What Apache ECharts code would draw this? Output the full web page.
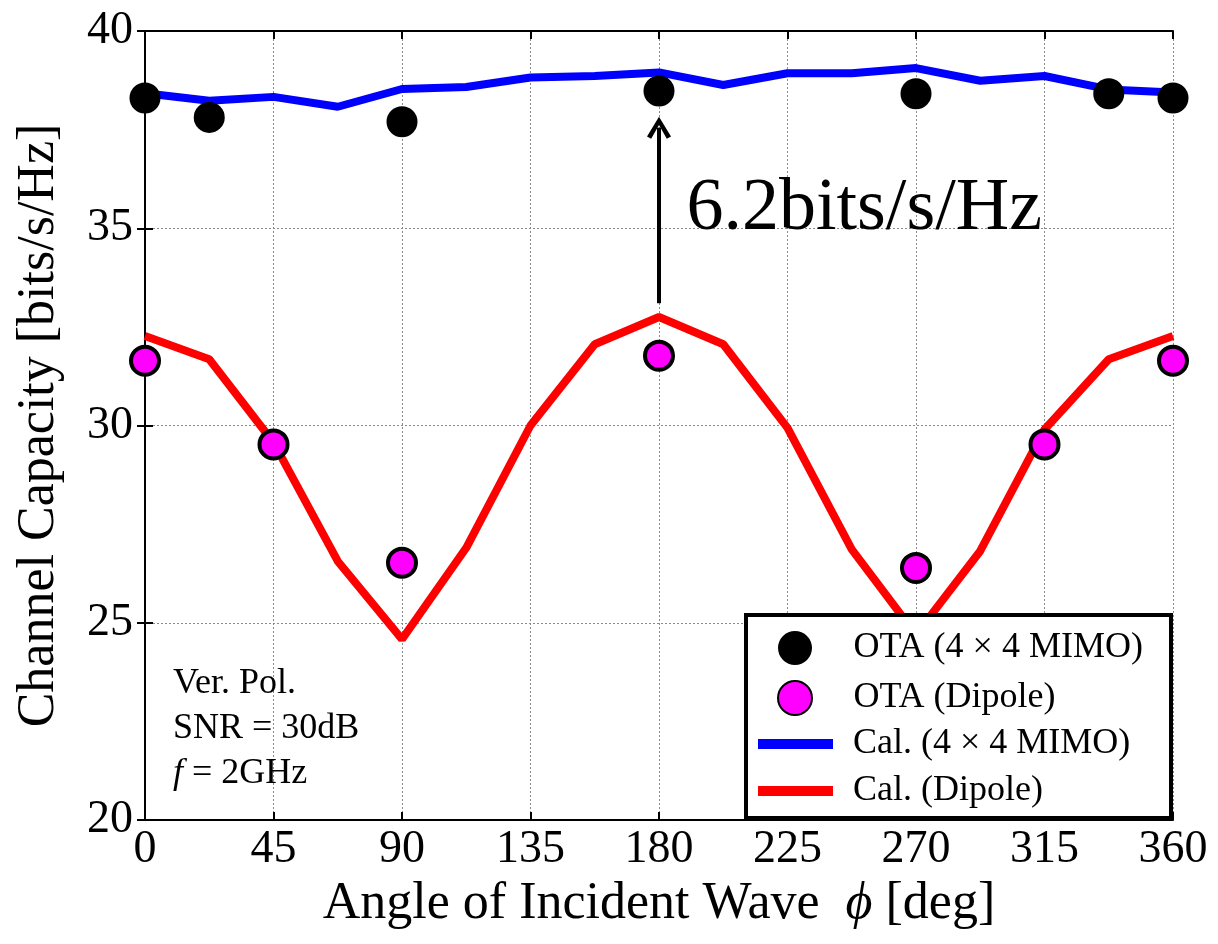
<!DOCTYPE html>
<html>
<head>
<meta charset="utf-8">
<script src="https://cdn.jsdelivr.net/npm/echarts@6/dist/echarts.min.js"></script>
<style>html,body{margin:0;padding:0;background:#fff;}#c{width:1218px;height:944px;}</style>
</head>
<body>
<div id="c"></div>
<script>
// ---- data ----
const angles = [0, 22.5, 45, 67.5, 90, 112.5, 135, 157.5, 180, 202.5, 225, 247.5, 270, 292.5, 315, 337.5, 360];
const calMimo = [38.42, 38.23, 38.33, 38.08, 38.53, 38.58, 38.82, 38.86, 38.95, 38.63, 38.93, 38.93, 39.06, 38.74, 38.86, 38.52, 38.44];
const calDipole = [32.27, 31.68, 29.57, 26.56, 24.58, 26.9, 30.0, 32.06, 32.75, 32.06, 29.94, 26.86, 24.7, 26.82, 29.9, 31.68, 32.27];
const otaMimoAngles = [0, 22.5, 90, 180, 270, 337.5, 360];
const otaMimo = [38.3, 37.81, 37.7, 38.48, 38.41, 38.41, 38.3];
const otaDipoleAngles = [0, 45, 90, 180, 270, 315, 360];
const otaDipole = [31.64, 29.52, 26.52, 31.77, 26.39, 29.52, 31.64];
const xTicks = [0, 45, 90, 135, 180, 225, 270, 315, 360];
const yTicks = [20, 25, 30, 35, 40];
const names = ['OTA (4 × 4 MIMO)', 'OTA (Dipole)', 'Cal. (4 × 4 MIMO)', 'Cal. (Dipole)'];
const arrowFrom = [180, 33.1];
const arrowTo = [180, 37.55];
const gainText = '6.2bits/s/Hz';
const gainPos = [189.6, 35.48];

const FONT = 'Liberation Serif';
const AXFONT = 'Liberation Serif';
const zip = (a, b) => a.map((v, i) => [v, b[i]]);

const chart = echarts.init(document.getElementById('c'));
const axisLine = { show: true, lineStyle: { color: '#000', width: 2 } };
const tick = { show: true, inside: true, length: 8, lineStyle: { color: '#000', width: 2 } };
const split = { show: true, lineStyle: { color: '#8a8a8a', width: 1, type: [2, 2] } };
const legendText = (pad) => ({
  fontFamily: FONT, fontSize: 36, color: '#000', lineHeight: 34,
  rich: { t: { fontFamily: FONT, fontSize: 36, color: '#000', lineHeight: 34, padding: [0, 0, 0, pad] } }
});
const tickLabel = (list, margin) => ({
  fontFamily: AXFONT, fontSize: 46, color: '#000', margin,
  formatter: v => list.includes(v) ? '{n|' + v + '}' : '',
  rich: { n: { fontFamily: AXFONT, fontSize: 46, color: '#000' } }
});

chart.setOption({
  animation: false,
  backgroundColor: '#fff',
  textStyle: { fontFamily: AXFONT, color: '#000' },
  grid: { left: 145, right: 45, top: 31, bottom: 124, containLabel: false },
  xAxis: [
    {
      type: 'value', min: 0, max: 360, interval: 45, position: 'bottom',
      axisLine, axisTick: tick, splitLine: split,
      axisLabel: tickLabel(xTicks, 7),
      name: '{a|Angle of Incident Wave  }{i|ϕ}{a| [deg]}',
      nameLocation: 'middle', nameGap: 34,
      nameTextStyle: { fontFamily: AXFONT, fontSize: 52, color: '#000',
        rich: {
          a: { fontFamily: AXFONT, fontSize: 52, color: '#000' },
          i: { fontFamily: AXFONT, fontSize: 52, fontStyle: 'italic', color: '#000' }
        } }
    },
    {
      type: 'value', min: 0, max: 360, interval: 45, position: 'top',
      axisLine, axisTick: tick, splitLine: { show: false }, axisLabel: { show: false }
    }
  ],
  yAxis: [
    {
      type: 'value', min: 20, max: 40, interval: 5, position: 'left',
      axisLine, axisTick: tick, splitLine: split,
      axisLabel: tickLabel(yTicks, 12),
      name: '{a|Channel Capacity [bits/s/Hz]}',
      nameLocation: 'middle', nameGap: 80,
      nameTextStyle: { fontFamily: AXFONT, fontSize: 52, color: '#000',
        rich: { a: { fontFamily: AXFONT, fontSize: 52, color: '#000' } } }
    },
    {
      type: 'value', min: 20, max: 40, interval: 5, position: 'right',
      axisLine, axisTick: tick, splitLine: { show: false }, axisLabel: { show: false }
    }
  ],
  legend: [
    {
      orient: 'vertical', left: 777, top: 630, padding: 0,
      itemWidth: 75, itemHeight: 34, itemGap: 14, z: 20,
      formatter: n => '{t|' + n + '}',
      textStyle: legendText(16),
      data: [{ name: names[0], icon: 'circle' }, { name: names[1], icon: 'circle' }]
    },
    {
      orient: 'vertical', left: 758, top: 726, padding: 0,
      itemWidth: 75, itemHeight: 10, itemGap: 11, z: 20,
      formatter: n => '{t|' + n + '}',
      textStyle: legendText(15),
      data: [{ name: names[2], icon: 'rect' }, { name: names[3], icon: 'rect' }]
    }
  ],
  graphic: [
    {
      type: 'rect', z: 10, silent: true,
      shape: { x: 746, y: 615, width: 425, height: 203 },
      style: { fill: '#fff', stroke: '#000', lineWidth: 4 }
    },
    {
      type: 'text', z: 10, silent: true, left: 173, top: 666,
      style: {
        text: '{a|Ver. Pol.}\n{a|SNR = 30dB}\n{i|f}{a| = 2GHz}',
        rich: {
          a: { fontFamily: FONT, fontSize: 36, lineHeight: 45, fill: '#000' },
          i: { fontFamily: FONT, fontSize: 36, lineHeight: 45, fontStyle: 'italic', fill: '#000' }
        }
      }
    }
  ],
  series: [
    {
      name: names[2], type: 'line', data: zip(angles, calMimo), showSymbol: false, symbol: 'none',
      lineStyle: { color: '#0000ff', width: 8 }, itemStyle: { color: '#0000ff' }, z: 2,
      markLine: {
        silent: true, animation: false,
        symbol: ['none', 'path://M0,18 L10,0 L20,18 L16.5,20 L10,7.5 L3.5,20 Z'],
        symbolSize: [24, 22],
        lineStyle: { color: '#000', width: 4, type: 'solid' },
        label: { show: false },
        data: [[{ coord: arrowFrom }, { coord: arrowTo }]]
      },
      markPoint: {
        silent: true, animation: false, symbol: 'circle', symbolSize: 0,
        label: { show: true, position: 'right', distance: 0, formatter: gainText,
          fontFamily: FONT, fontSize: 74, color: '#000' },
        data: [{ coord: gainPos }]
      }
    },
    {
      name: names[3], type: 'line', data: zip(angles, calDipole), showSymbol: false, symbol: 'none',
      lineStyle: { color: '#ff0000', width: 8 }, itemStyle: { color: '#ff0000' }, z: 2
    },
    {
      name: names[0], type: 'scatter', data: zip(otaMimoAngles, otaMimo), symbol: 'circle', symbolSize: 31,
      itemStyle: { color: '#000', opacity: 1 }, z: 3
    },
    {
      name: names[1], type: 'scatter', data: zip(otaDipoleAngles, otaDipole), symbol: 'circle', symbolSize: 28,
      itemStyle: { color: '#ff00ff', borderColor: '#000', borderWidth: 4, opacity: 1 }, z: 3
    }
  ]
});
</script>
</body>
</html>
